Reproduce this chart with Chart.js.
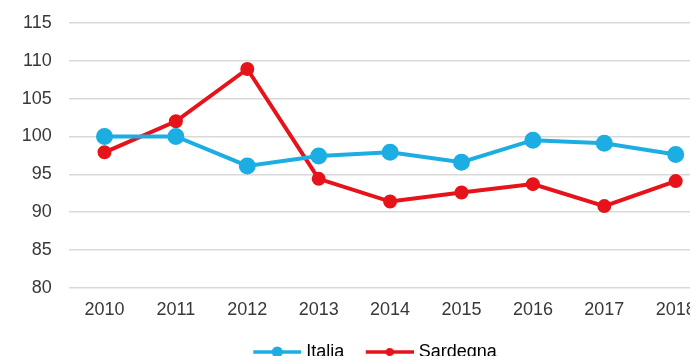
<!DOCTYPE html>
<html>
<head>
<meta charset="utf-8">
<script src="https://cdn.jsdelivr.net/npm/chart.js@4/dist/chart.umd.min.js"></script>
<style>
  html, body { margin: 0; padding: 0; background: #fff; overflow: hidden; }
  #wrap { position: relative; width: 740px; height: 371px; }
</style>
</head>
<body>
<div id="wrap"><canvas id="chart"></canvas></div>
<script>
const years = ['2010', '2011', '2012', '2013', '2014', '2015', '2016', '2017', '2018'];
const italia = [100, 100, 96.1, 97.4, 97.9, 96.6, 99.5, 99.1, 97.6];
const sardegna = [97.9, 102, 108.9, 94.4, 91.4, 92.6, 93.7, 90.8, 94.1];
const yTicks = [80, 85, 90, 95, 100, 105, 110, 115];

const BLUE = '#1caee3';
const RED = '#e6131a';

Chart.defaults.font.family = '"Liberation Sans", Arial, sans-serif';
Chart.defaults.font.size = 18;
Chart.defaults.color = '#383838';

// legend swatch: blank lead-in, then a short line with a dot in the middle
const swatch = (color, r) => {
  const lead = 14, len = 48;
  const c = document.createElement('canvas');
  c.width = lead + len; c.height = 14;
  const g = c.getContext('2d');
  g.strokeStyle = color;
  g.lineWidth = 3.5;
  g.beginPath(); g.moveTo(lead, 7); g.lineTo(lead + len, 7); g.stroke();
  g.fillStyle = color;
  g.beginPath(); g.arc(lead + len / 2, 7, r, 0, Math.PI * 2); g.fill();
  return c;
};

new Chart(document.getElementById('chart'), {
  type: 'line',
  data: {
    labels: years,
    datasets: [{
      label: 'Italia',
      data: italia,
      borderColor: BLUE,
      backgroundColor: BLUE,
      borderWidth: 4,
      pointRadius: 6.5,
      pointHoverRadius: 6.5,
      tension: 0
    }, {
      label: 'Sardegna',
      data: sardegna,
      borderColor: RED,
      backgroundColor: RED,
      borderWidth: 4,
      pointRadius: 5,
      pointHoverRadius: 5,
      tension: 0
    }]
  },
  options: {
    responsive: true,
    maintainAspectRatio: false,
    animation: false,
    layout: { padding: 0 },
    plugins: {
      tooltip: { enabled: false },
      legend: {
        position: 'bottom',
        labels: {
          usePointStyle: true,
          pointStyleWidth: 54,
          padding: 11.5,
          color: '#383838',
          generateLabels: chart => chart.data.datasets.map((ds, i) => ({
            text: ds.label,
            datasetIndex: i,
            pointStyle: swatch(ds.borderColor, i === 0 ? 5.5 : 4),
            fillStyle: ds.borderColor,
            strokeStyle: ds.borderColor,
            lineWidth: 0,
            hidden: false
          }))
        }
      }
    },
    scales: {
      x: {
        offset: true,
        grid: { display: false, drawTicks: false },
        border: { display: false },
        ticks: { padding: 11, maxRotation: 0 }
      },
      y: {
        min: 80,
        max: 115,
        afterBuildTicks: axis => { axis.ticks = yTicks.map(v => ({ value: v })); },
        afterFit: axis => { axis.width = 68.8; },
        grid: { color: '#d9d9d9', lineWidth: 1.5, drawTicks: true, tickLength: 5, tickColor: 'rgba(0,0,0,0)' },
        border: { display: false },
        ticks: { padding: 12 }
      },
      // empty right-hand strip so the plot runs on past the right edge
      yRight: {
        position: 'right',
        min: 80,
        max: 115,
        grid: { display: false },
        border: { display: false },
        ticks: { display: false },
        afterFit: axis => { axis.width = 28.6; }
      }
    }
  }
});
</script>
</body>
</html>
